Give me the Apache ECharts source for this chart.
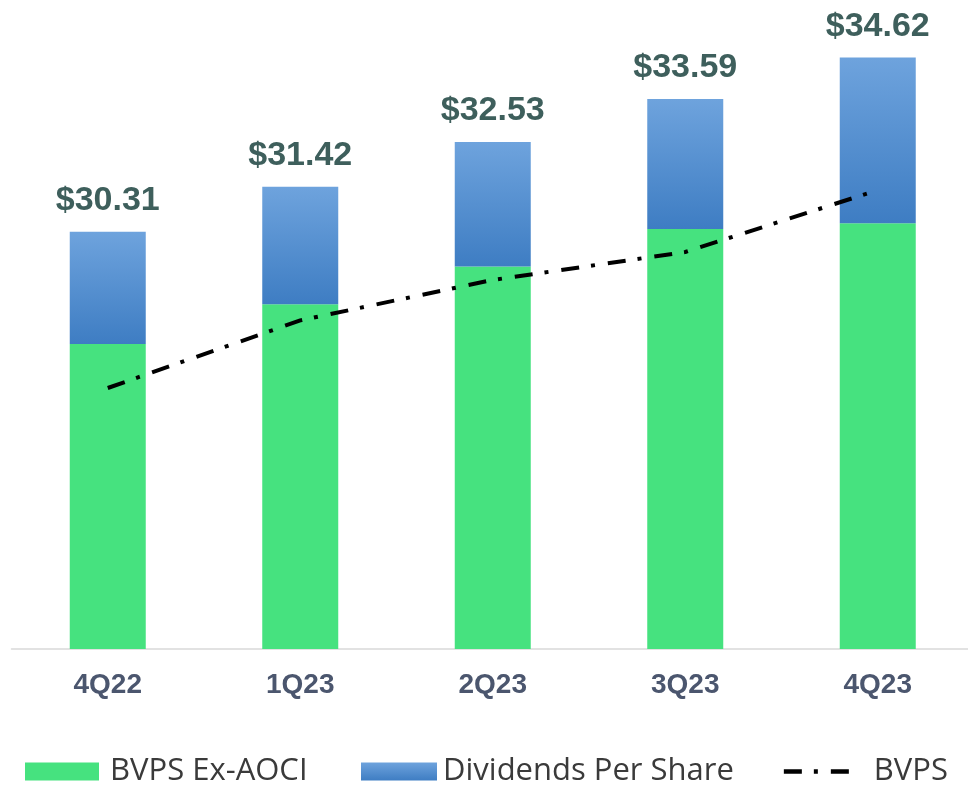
<!DOCTYPE html>
<html>
<head>
<meta charset="utf-8">
<script src="https://cdn.jsdelivr.net/npm/echarts@6/dist/echarts.min.js"></script>
<style>
  html, body { margin: 0; padding: 0; background: #fff; overflow: hidden; }
  /* a few px wider than the window: the last category runs past the right edge */
  #chart { width: 975px; height: 786px; }
</style>
</head>
<body>
<div id="chart"></div>
<script>
const quarters = ['4Q22', '1Q23', '2Q23', '3Q23', '4Q23'];
const bvpsExAoci = [27.54, 28.52, 29.45, 30.38, 30.52];
const dividends = [2.77, 2.90, 3.08, 3.21, 4.10];
const bvps = [26.45, 28.12, 29.12, 29.81, 31.34];
const totalLabels = ['$30.31', '$31.42', '$32.53', '$33.59', '$34.62'];

const green = '#46e27f';
const blue = new echarts.graphic.LinearGradient(0, 0, 0, 1, [
  { offset: 0, color: '#6ea3dd' },
  { offset: 1, color: '#3e7dc3' }
]);
const legendText = (padLeft) => ({
  color: '#3a3a3a', fontSize: 31, fontFamily: 'Open Sans', padding: [0, 0, 0, padLeft]
});

const chart = echarts.init(document.getElementById('chart'));
chart.setOption({
  animation: false,
  grid: { left: 11.5, right: 1, top: 42, bottom: 137 },
  xAxis: {
    type: 'category',
    data: quarters,
    axisLine: { lineStyle: { color: '#d9d9d9', width: 1.5 } },
    axisTick: { show: false },
    axisLabel: {
      color: '#4b566e', fontSize: 28, fontWeight: 'bold',
      fontFamily: 'Liberation Sans', margin: 22
    }
  },
  yAxis: { type: 'value', min: 20, max: 35, show: false, splitLine: { show: false } },
  legend: [
    { id: 'lg1', left: 25, top: 756, padding: 0, itemWidth: 74, itemHeight: 18, icon: 'rect',
      data: ['BVPS Ex-AOCI'], textStyle: legendText(6) },
    { id: 'lg2', left: 361, top: 756, padding: 0, itemWidth: 76, itemHeight: 18, icon: 'rect',
      data: ['Dividends Per Share'], textStyle: legendText(1) },
    { id: 'lg3', right: 27, top: 756, padding: 0, itemWidth: 65, itemHeight: 18,
      itemStyle: { opacity: 0 }, lineStyle: { width: 4.5 },
      data: ['BVPS'], textStyle: legendText(20) }
  ],
  series: [
    {
      name: 'BVPS Ex-AOCI', type: 'bar', stack: 'b', barWidth: 76,
      itemStyle: { color: green }, data: bvpsExAoci
    },
    {
      name: 'Dividends Per Share', type: 'bar', stack: 'b', barWidth: 76,
      itemStyle: { color: blue }, data: dividends,
      label: {
        show: true, position: 'top', distance: 14,
        color: '#3e5f5c', fontSize: 34, fontWeight: 'bold', fontFamily: 'Liberation Sans',
        formatter: (p) => totalLabels[p.dataIndex]
      }
    },
    {
      name: 'BVPS', type: 'line', data: bvps, symbol: 'none', z: 5,
      lineStyle: { color: '#000', width: 4, type: [18, 12, 4, 13] },
      itemStyle: { color: '#000' }
    }
  ]
});
</script>
</body>
</html>
